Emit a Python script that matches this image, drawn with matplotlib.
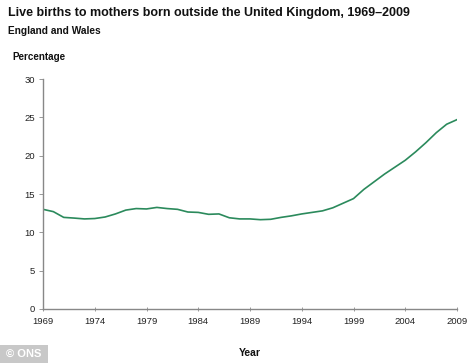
import matplotlib
matplotlib.use("Agg")
import matplotlib.pyplot as plt
from matplotlib.patches import Rectangle

years = list(range(1969, 2010))
pct = [13.0, 12.7, 11.95, 11.86, 11.75, 11.8, 12.0, 12.4, 12.9, 13.1, 13.05, 13.25,
       13.1, 13.0, 12.65, 12.6, 12.35, 12.4, 11.9, 11.75, 11.75, 11.65, 11.7, 11.95,
       12.15, 12.4, 12.6, 12.8, 13.2, 13.8, 14.4, 15.6, 16.6, 17.6, 18.5, 19.4,
       20.5, 21.7, 23.0, 24.1, 24.7]
xticks = [1969, 1974, 1979, 1984, 1989, 1994, 1999, 2004, 2009]
yticks = [0, 5, 10, 15, 20, 25, 30]

plt.rcParams['font.family'] = ['Liberation Sans', 'DejaVu Sans']

fig = plt.figure(figsize=(4.68, 3.63), dpi=100)
ax = fig.add_axes([43/468, 1-309/363, (457-43)/468, (309-79)/363])
ax.plot(years, pct, color='#2b8a5c', lw=1.2)
ax.set_xlim(1969, 2009)
ax.set_ylim(0, 30)
ax.set_xticks(xticks)
ax.set_yticks(yticks)
ax.tick_params(axis='both', labelsize=6.8, colors='#222222', length=3, width=0.6, color='#888888')
ax.tick_params(axis='x', direction='inout', pad=4.5)
ax.tick_params(axis='y', direction='out', pad=3)
for s in ['top', 'right']:
    ax.spines[s].set_visible(False)
for s in ['left', 'bottom']:
    ax.spines[s].set_color('#888888')
    ax.spines[s].set_linewidth(1.0)

fig.text(8/468, 1-13/363, 'Live births to mothers born outside the United Kingdom, 1969\u20132009',
         fontsize=9.0, fontweight='bold', va='center', ha='left', color='#111111')
fig.text(8/468, 1-31/363, 'England and Wales', fontsize=7.3, fontweight='bold',
         va='center', ha='left', color='#111111')
fig.text(12/468, 1-57/363, 'Percentage', fontsize=7.1, fontweight='bold',
         va='center', ha='left', color='#111111')
fig.text(250/468, 1-353/363, 'Year', fontsize=7.5, fontweight='bold',
         va='center', ha='center', color='#111111')

fig.patches.append(Rectangle((0, 0), 48/468, 18/363, transform=fig.transFigure,
                             facecolor='#c8c8c8', edgecolor='none'))
fig.text(24/468, 9/363, '\u00a9 ONS', fontsize=8, fontweight='bold', color='white',
         va='center', ha='center')

fig.savefig('out.png', dpi=100)
